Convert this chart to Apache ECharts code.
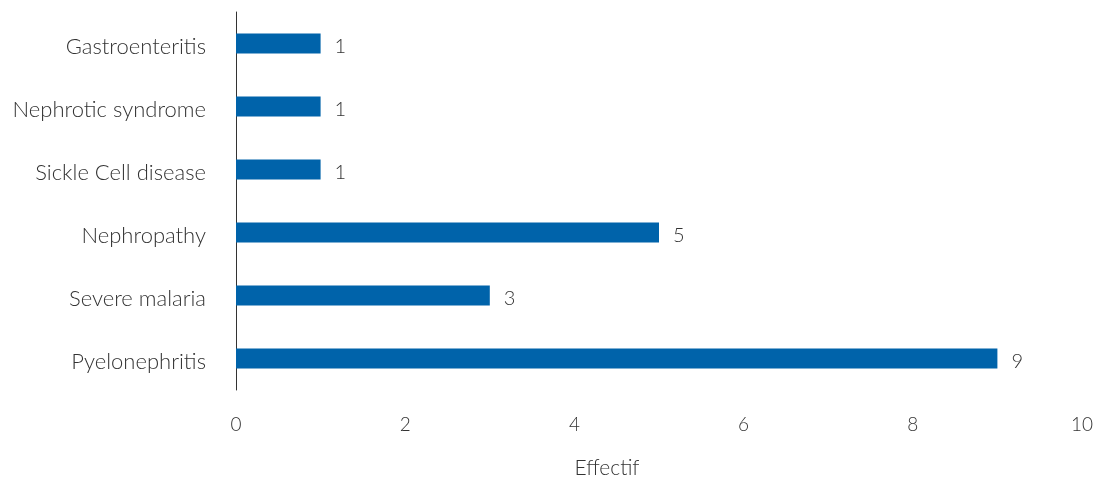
<!DOCTYPE html>
<html>
<head>
<meta charset="utf-8">
<script src="https://cdn.jsdelivr.net/npm/echarts@6/dist/echarts.min.js"></script>
<style>
  html, body { margin: 0; padding: 0; background: #fff; }
  #chart { width: 1095px; height: 480px; }
</style>
</head>
<body>
<div id="chart"></div>
<script>
// Diagnoses, listed bottom to top as drawn on the category axis
const categories = ['Pyelonephritis', 'Severe malaria', 'Nephropathy', 'Sickle Cell disease', 'Nephrotic syndrome', 'Gastroenteritis'];
const counts = [9, 3, 5, 1, 1, 1];
const xTicks = [0, 2, 4, 6, 8, 10];

const FONT = 'Lato, "Open Sans", sans-serif';
const chart = echarts.init(document.getElementById('chart'));

chart.setOption({
  animation: false,
  grid: { left: 236, right: 13, top: 12, bottom: 90, containLabel: false, outerBoundsMode: 'none' },
  xAxis: {
    type: 'value',
    min: xTicks[0],
    max: xTicks[xTicks.length - 1],
    interval: 2,
    name: 'Effectif',
    nameLocation: 'middle',
    nameGap: 68,
    nameTextStyle: { fontFamily: FONT, fontSize: 21, color: '#333', fontWeight: 300, padding: [0, 104, 0, 0] },
    axisLine: { show: false },
    axisTick: { show: false },
    splitLine: { show: false },
    axisLabel: { fontFamily: FONT, fontSize: 19, color: '#333', fontWeight: 300, margin: 25 }
  },
  yAxis: {
    type: 'category',
    data: categories,
    axisLine: { show: true, lineStyle: { color: '#333', width: 1 } },
    axisTick: { show: false },
    axisLabel: {
      margin: 30,
      formatter: v => '{c|' + v + '}',
      rich: {
        c: { fontFamily: FONT, fontSize: 22, color: '#333', fontWeight: 300, padding: [6, 0, 0, 0] }
      }
    }
  },
  series: [{
    type: 'bar',
    data: counts,
    barWidth: 20,
    itemStyle: { color: '#0063AA' },
    label: {
      show: true,
      position: 'right',
      distance: 14,
      offset: [0, 3],
      fontFamily: FONT,
      fontSize: 20,
      fontWeight: 300,
      color: '#333'
    }
  }]
});
</script>
</body>
</html>
